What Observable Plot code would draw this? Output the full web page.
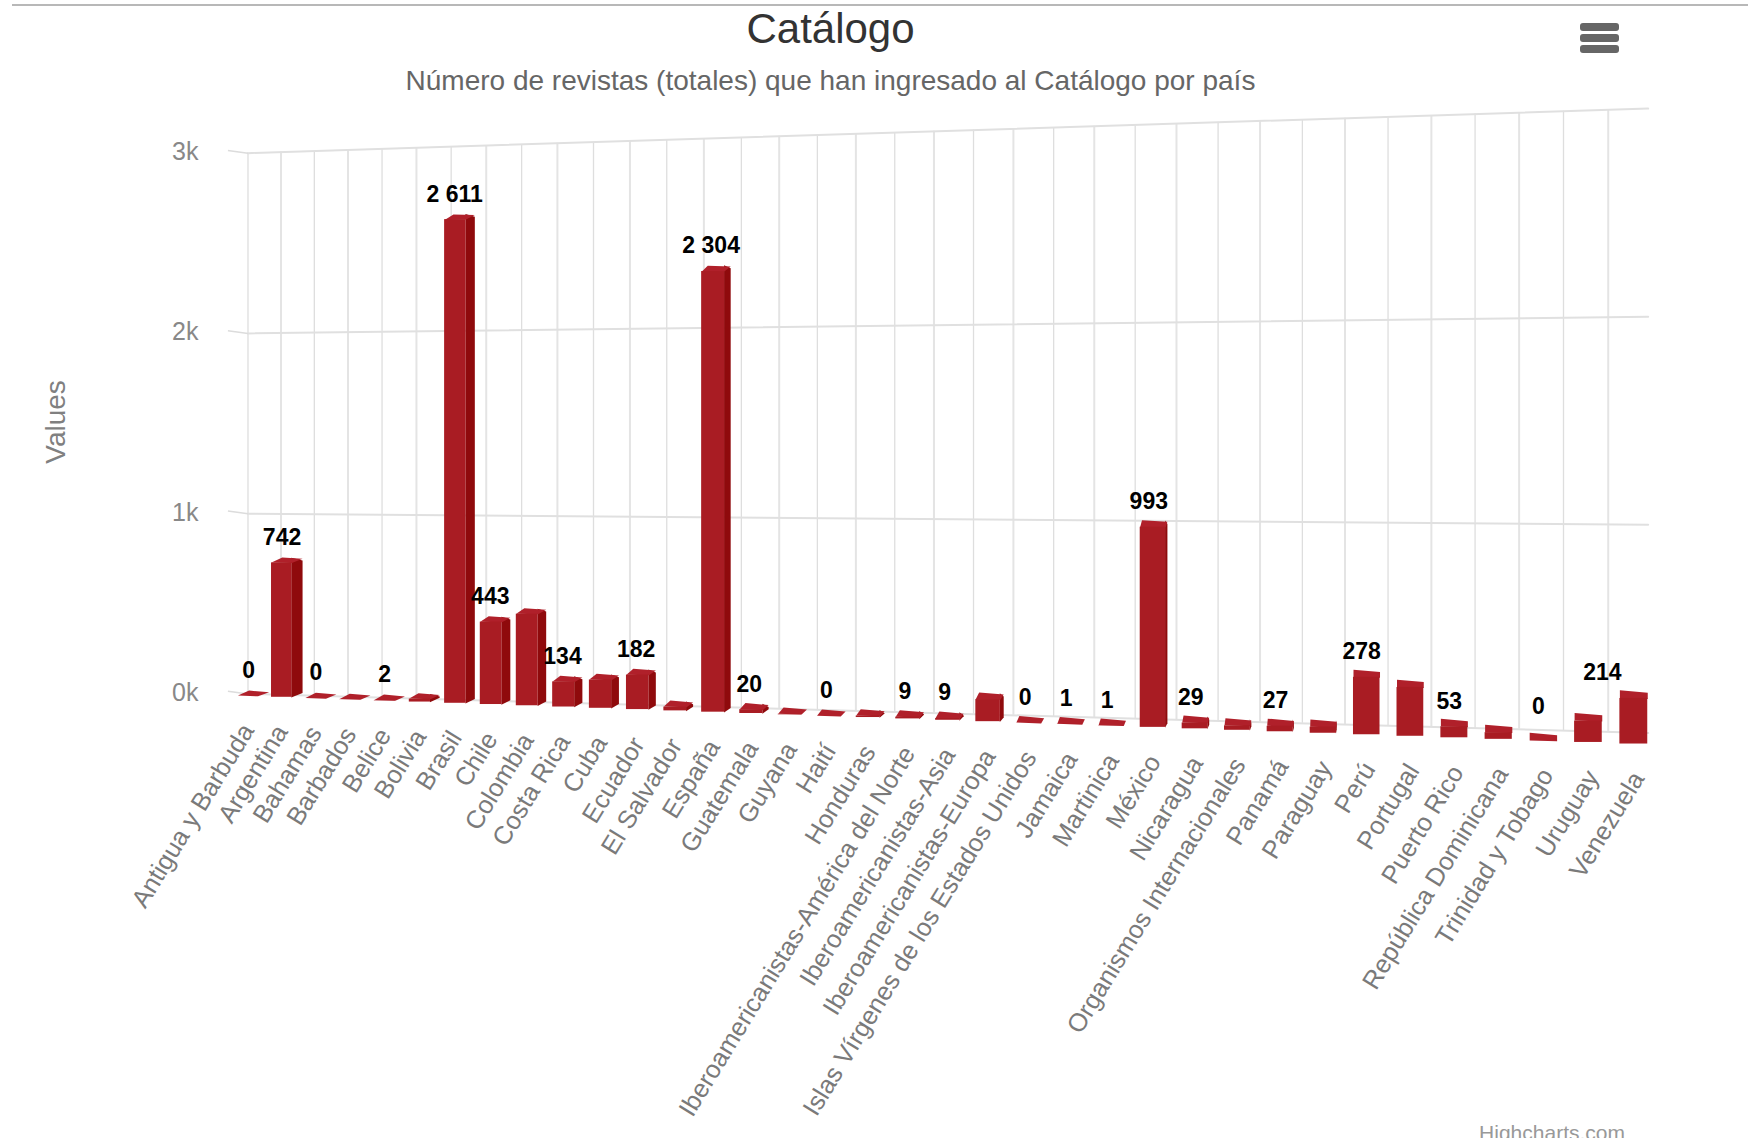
<!DOCTYPE html>
<html lang="es">
<head>
<meta charset="utf-8">
<title>Catálogo</title>
<script src="https://cdn.jsdelivr.net/npm/d3@7"></script>
<script src="https://cdn.jsdelivr.net/npm/@observablehq/plot@0.6"></script>
<style>
  html, body { margin: 0; padding: 0; background: #fff; width: 1748px; height: 1138px; overflow: hidden; }
  body { position: relative; font-family: "Liberation Sans", Arial, sans-serif; }
  #rule { position: absolute; left: 12px; right: 0; top: 4px; height: 2px; background: #b8b8b8; }
  #title, #subtitle { position: absolute; left: 0; width: 1661px; text-align: center; white-space: nowrap; z-index: 2; }
  #title { top: 4px; font-size: 42px; line-height: 50px; color: #333; }
  #subtitle { top: 64px; font-size: 28px; line-height: 34px; color: #666; }
  #menu { position: absolute; left: 1580px; top: 23px; width: 39px; z-index: 2; }
  #menu i { display: block; height: 8px; margin-bottom: 3px; border-radius: 3px; background: #666; }
  #credit { position: absolute; right: 123px; top: 1121px; font-size: 21px; line-height: 24px; color: #999; z-index: 2; }
  #chart { position: absolute; left: 0; top: 0; }
</style>
</head>
<body>
<div id="rule"></div>
<div id="title">Catálogo</div>
<div id="subtitle">Número de revistas (totales) que han ingresado al Catálogo por país</div>
<div id="menu"><i></i><i></i><i></i></div>
<div id="chart"></div>
<div id="credit">Highcharts.com</div>
<script>
const categories = ["Antigua y Barbuda","Argentina","Bahamas","Barbados","Belice","Bolivia","Brasil","Chile","Colombia","Costa Rica","Cuba","Ecuador","El Salvador","España","Guatemala","Guyana","Haití","Honduras","Iberoamericanistas-América del Norte","Iberoamericanistas-Asia","Iberoamericanistas-Europa","Islas Vírgenes de los Estados Unidos","Jamaica","Martinica","México","Nicaragua","Organismos Internacionales","Panamá","Paraguay","Perú","Portugal","Puerto Rico","República Dominicana","Trinidad y Tobago","Uruguay","Venezuela"];
const values = [0,742,0,1,2,16,2611,443,490,134,150,182,20,2304,20,3,0,8,9,9,112,0,1,1,993,29,22,27,30,278,235,53,32,0,101,214];
// Highcharts hid the labels of some bars where they collided
const hiddenLabels = ["Barbados","Bolivia","Colombia","Cuba","El Salvador","Guyana","Honduras","Iberoamericanistas-Europa","Organismos Internacionales","Paraguay","Portugal","República Dominicana","Uruguay"];
const yTicks = [0,1000,2000,3000];
const yTitle = "Values";

const fmt = v => d3.format(",")(v).replace(/,/g, " ");

// 3D perspective of the original chart, in plane units (x scale domain)
const planeLeft = 222, planeRight = 1478, tickLeft = 204;
const frontX = i => 227 + 29.88 * i + 0.157 * i * i;
const backX = i => planeLeft + (frontX(i) - 227) * 0.9855;
const backBase = x => 622 + 0.0279 * (x - planeLeft);
const frontBase = x => 625 + 0.0347 * (x - 256);
const backPx = x => 0.1617 + 0.0000199 * (x - planeLeft);
const frontPx = x => 0.1617 + 0.0000235 * (x - planeLeft);
const yScalePx = 0.16167;
const yFromPlane = p => (622 - p) / yScalePx;
const wBack = (x, v) => yFromPlane(backBase(x) - v * backPx(x));
const wFront = (x, v, lift = 0) => yFromPlane(frontBase(x) - v * frontPx(x) - lift);
const frontW = i => 18 + 0.2 * i;
const sideW = i => Math.max(0, 10 - 0.35 * i);
const depth = i => 4.5 + 0.07 * i;

const rows = categories.map((name, i) => {
  const c = frontX(i), w = frontW(i), s = sideW(i), L = c - (w + s) / 2;
  return {name, i, value: values[i], c, w, s, L, R: L + w, d: depth(i), showLabel: !hiddenLabels.includes(name)};
});

const front = rows.map(r => ({x1: r.L, x2: r.R, y1: wFront(r.c, 0), y2: wFront(r.c, r.value), name: r.name, value: r.value}));
const tops = rows.flatMap(r => {
  const v = r.value;
  return [
    {id: r.i, x: r.L, y: wFront(r.L, v)},
    {id: r.i, x: r.R, y: wFront(r.R, v)},
    {id: r.i, x: r.R + r.s, y: wFront(r.R, v, r.d * 0.8)},
    {id: r.i, x: r.L + r.s, y: wFront(r.L, v, r.d)}
  ];
});
const sides = rows.filter(r => r.s > 0 && r.value > 5).flatMap(r => {
  const v = r.value;
  return [
    {id: r.i, x: r.R - 0.5, y: wFront(r.R, 0)},
    {id: r.i, x: r.R - 0.5, y: wFront(r.R, v, r.d)},
    {id: r.i, x: r.R + r.s, y: wFront(r.R, v, r.d * 0.5)},
    {id: r.i, x: r.R + r.s, y: wFront(r.R, 0, 4)}
  ];
});

const vGrid = categories.map((_, i) => {
  const x = backX(i);
  return {x, y1: wBack(x, 0), y2: wBack(x, 3000), wide: i % 2 === 1};
});
const hGrid = yTicks.flatMap(v => [
  {v, x: planeLeft, y: wBack(planeLeft, v)},
  {v, x: planeRight, y: wBack(planeRight, v)}
]);
const axisTicks = yTicks.map(v => ({x1: tickLeft, x2: planeLeft, y1: v + 15, y2: v}));

const labelMaxX = 1437;
const labelLift = {"Trinidad y Tobago": 8};
const valueLabels = rows.filter(r => r.showLabel).map(r => ({
  x: Math.min(r.c - 4.5, labelMaxX),
  y: wFront(r.c, r.value, 4 + (labelLift[r.name] || 0)),
  text: fmt(r.value)
}));
const catLabels = rows.map(r => ({
  x: r.c - 5 + (r.c - 227) * 0.0073,
  y: wFront(r.c, 0),
  name: r.name
}));

const k = 1748 / 1568;
const chart = Plot.plot({
  width: 1748,
  height: 1138,
  marginLeft: 227,
  marginRight: 0,
  marginTop: 0,
  marginBottom: 0,
  style: {fontFamily: "'Liberation Sans', Arial, sans-serif", background: "transparent", overflow: "visible"},
  x: {type: "linear", domain: [0, 1568], range: [0, 1748], axis: null},
  y: {type: "linear", domain: [0, 3000], range: [622 * k, 137 * k], axis: null},
  marks: [
    Plot.ruleX(vGrid.filter(d => !d.wide), {x: "x", y1: "y1", y2: "y2", stroke: "#dedede", strokeWidth: 1.3}),
    Plot.ruleX(vGrid.filter(d => d.wide), {x: "x", y1: "y1", y2: "y2", stroke: "#e4e4e4", strokeWidth: 2}),
    Plot.line(hGrid, {x: "x", y: "y", z: "v", stroke: "#e0e0e0", strokeWidth: 2}),
    Plot.link(axisTicks, {x1: "x1", x2: "x2", y1: "y1", y2: "y2", stroke: "#dcdcdc", strokeWidth: 1.5}),
    Plot.axisY({
      ticks: yTicks,
      tickFormat: v => `${v / 1000}k`,
      tickSize: 0,
      tickPadding: 29,
      dy: -1,
      fontSize: 25,
      color: "#888",
      label: null
    }),
    Plot.text([yTitle], {x: 50, y: yFromPlane(378), text: d => d, rotate: -90, fontSize: 28, fill: "#808080"}),
    Plot.line(sides, {x: "x", y: "y", z: "id", fill: "#8f0a0c", stroke: "none"}),
    Plot.line(tops, {x: "x", y: "y", z: "id", fill: "#b0202a", stroke: "none"}),
    Plot.rect(front, {x1: "x1", x2: "x2", y1: "y1", y2: "y2", fill: "#a91c23"}),
    Plot.text(catLabels, {x: "x", y: "y", text: "name", rotate: -58.5, textAnchor: "end", dy: 27 * k, fontSize: 25.5, fill: "#7a7a7a"}),
    Plot.text(valueLabels, {x: "x", y: "y", text: "text", dy: -21, fontSize: 23, fontWeight: "bold", fill: "#000"})
  ]
});
document.getElementById("chart").append(chart);
</script>
</body>
</html>
